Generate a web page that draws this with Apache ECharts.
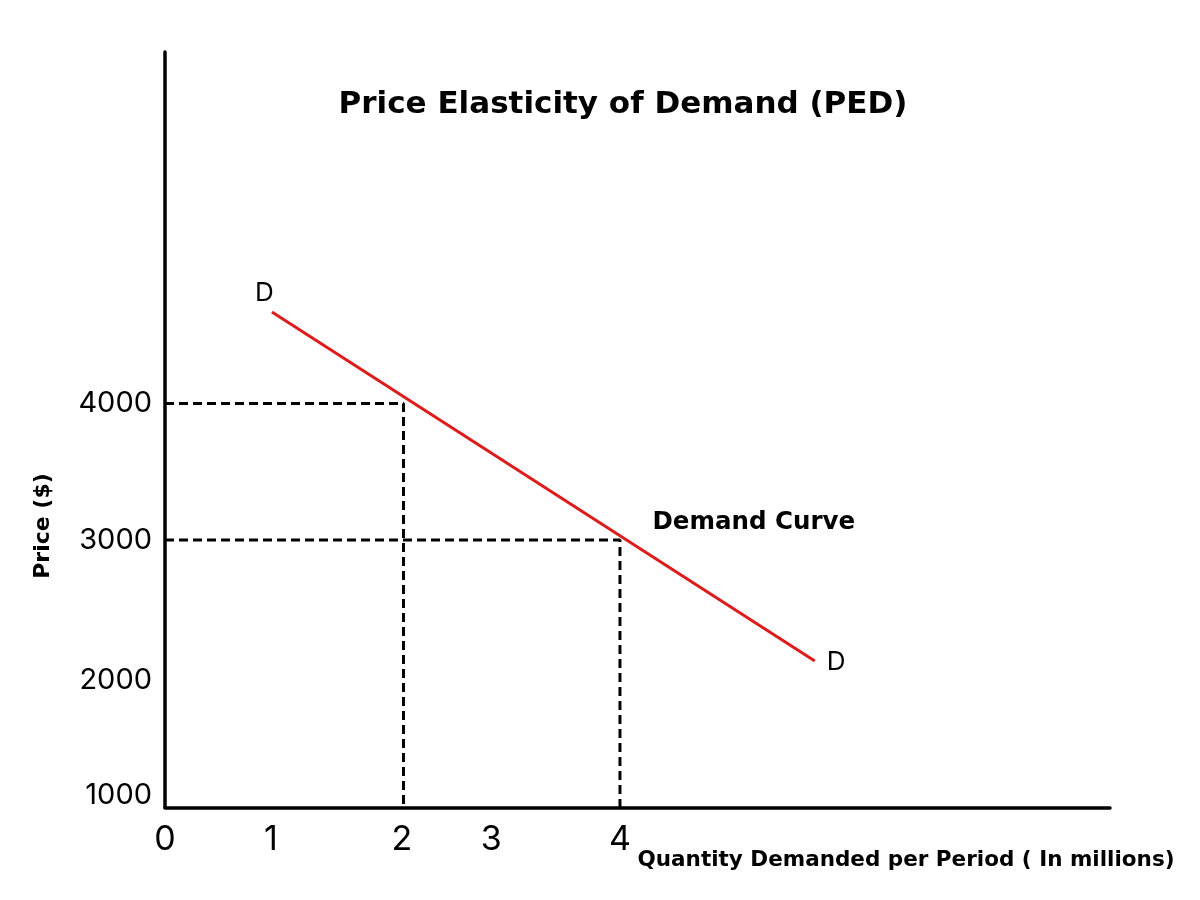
<!DOCTYPE html>
<html>
<head>
<meta charset="utf-8">
<script src="https://cdn.jsdelivr.net/npm/echarts@6/dist/echarts.min.js"></script>
<style>html,body{margin:0;padding:0;background:#fff}#chart{width:1200px;height:900px}</style>
</head>
<body>
<div id="chart"></div>
<script>
// ---- data ----
const titleText = 'Price Elasticity of Demand (PED)';
const xAxisName = 'Quantity Demanded per Period ( In millions)';
const yAxisName = 'Price ($)';
const curveLabel = 'Demand Curve';
const endLabels = ['D', 'D'];
// demand curve end points [quantity, price]
const demandQty = [0.785, 5.80];
const demandPrice = [4670, 2114];
// guide points (quantity, price)
const guideQty = [2, 4];
const guidePrice = [4000, 3000];
// tick labels and where they sit
const xTickLabels = ['0', '1', '2', '3', '4'];
const xTickAt = [-0.203, 0.776, 1.986, 2.81, 4.0];
const yTickLabels = ['4000', '3000', '2000', '1000'];
const yTickAt = [4000, 3000, 1974, 1132];
// axis range
const xMin = -0.203, xMax = 8.527;
const yMin = 1040, yMax = 6575;
// position of "Demand Curve" text
const curveLabelAt = [4.3, 3125];

const FONT = 'Inter, "Open Sans", sans-serif';
const BOLD = '"DejaVu Sans", Inter, sans-serif';
const chart = echarts.init(document.getElementById('chart'));

const guideSeries = guideQty.map((q, i) => ({
  type: 'line',
  data: [[xMin, guidePrice[i]], [q, guidePrice[i]], [q, yMin]],
  symbol: 'none',
  silent: true,
  lineStyle: { color: '#000', width: 3, type: [9, 5] },
  z: 2
}));

const labelScatter = (data, label) => ({
  type: 'scatter', data, symbolSize: 0, silent: true, clip: false,
  itemStyle: { opacity: 1 },
  label: Object.assign({ show: true, color: '#000', opacity: 1 }, label)
});

chart.setOption({
  animation: false,
  backgroundColor: '#fff',
  grid: { left: 165, right: 90, top: 52, bottom: 92.5, containLabel: false },
  xAxis: {
    type: 'value', min: xMin, max: xMax,
    axisLine: { show: true, onZero: false, lineStyle: { color: '#000', width: 3.5 } },
    axisTick: { show: false }, axisLabel: { show: false }, splitLine: { show: false }
  },
  yAxis: {
    type: 'value', min: yMin, max: yMax,
    axisLine: { show: true, onZero: false, lineStyle: { color: '#000', width: 3.5 } },
    axisTick: { show: false }, axisLabel: { show: false }, splitLine: { show: false }
  },
  graphic: [
    { type: 'text', x: 623, y: 105, style: { text: titleText, font: 'bold 31px ' + BOLD, fill: '#000', align: 'center', verticalAlign: 'middle' } },
    { type: 'text', x: 906, y: 860, style: { text: xAxisName, font: 'bold 21.5px ' + BOLD, fill: '#000', align: 'center', verticalAlign: 'middle' } },
    { type: 'text', x: 43, y: 526, rotation: Math.PI / 2, style: { text: yAxisName, font: 'bold 22px ' + BOLD, fill: '#000', align: 'center', verticalAlign: 'middle' } }
  ],
  series: [
    ...guideSeries,
    {
      type: 'line',
      data: demandQty.map((q, i) => ({
        value: [q, demandPrice[i]],
        label: {
          show: true,
          formatter: endLabels[i],
          position: i === 0 ? [-17, -32] : [12, -12],
          fontSize: 26, fontFamily: FONT, color: '#000'
        }
      })),
      symbol: 'circle', symbolSize: 0.01,
      lineStyle: { color: '#dd1c1c', width: 3 },
      z: 3
    },
    labelScatter([curveLabelAt], { formatter: curveLabel, position: 'right', distance: 0, fontSize: 24.5, fontWeight: 'bold', fontFamily: BOLD }),
    labelScatter(xTickAt.map((x, i) => ({ value: [x, yMin], name: xTickLabels[i] })),
      { formatter: p => p.name, position: 'inside', offset: [0, 32], fontSize: 34, fontFamily: FONT }),
    labelScatter(yTickAt.map((y, i) => ({ value: [xMin, y], name: yTickLabels[i] })),
      { formatter: p => p.name, position: 'left', distance: 13, fontSize: 29, fontFamily: FONT })
  ]
});
</script>
</body>
</html>
